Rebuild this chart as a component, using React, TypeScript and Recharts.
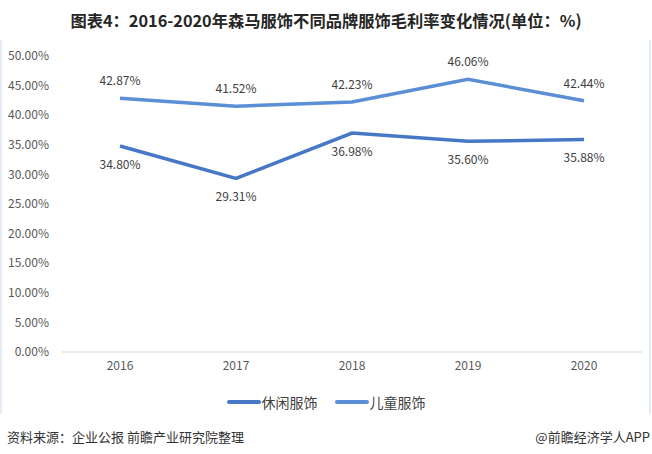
import { LineChart, Line, XAxis, YAxis, LabelList } from 'recharts';

const years = ['2016', '2017', '2018', '2019', '2020'];
const casualWear = [34.8, 29.31, 36.98, 35.6, 35.88];
const kidsWear = [42.87, 41.52, 42.23, 46.06, 42.44];
const yTicks = [0, 5, 10, 15, 20, 25, 30, 35, 40, 45, 50];

const seriesNames = ['休闲服饰', '儿童服饰'];
const seriesColors = ['#4678c6', '#5a8fd6'];

const chartData = years.map((year, i) => ({
  year,
  casual: casualWear[i],
  kids: kidsWear[i],
}));

const font = '"Noto Sans CJK SC", "Noto Sans", sans-serif';

const pct = (v: any) => `${Number(v).toFixed(2)}%`;

const App = () => {
  return (
    <div style={{ position: 'absolute', left: 0, top: 0, width: 652, height: 454, background: '#fff', fontFamily: font }}>
      <div style={{ position: 'absolute', top: 8, left: 0, width: 652, textAlign: 'center', fontSize: 16.3, fontWeight: 'bold', color: '#262626' }}>
        图表4：2016-2020年森马服饰不同品牌服饰毛利率变化情况(单位：%)
      </div>
      <div style={{ position: 'absolute', left: 0, top: 40, width: 2, height: 374, background: '#e6ecf5' }} />
      <div style={{ position: 'absolute', left: 649, top: 40, width: 2, height: 374, background: '#e6ecf5' }} />

      <div style={{ position: 'absolute', left: 0, top: 0 }}>
        <LineChart width={652} height={454} data={chartData} margin={{ top: 56, right: 10, bottom: 72, left: 0 }}>
          <XAxis
            dataKey="year"
            height={30}
            padding={{ left: 58, right: 58 }}
            axisLine={{ stroke: '#d9d9d9' }}
            tickLine={false}
            tickSize={0}
            tickMargin={9}
            tick={{ fontSize: 12, fill: '#595959', fontFamily: font }}
          />
          <YAxis
            width={62}
            domain={[0, 50]}
            ticks={yTicks}
            interval={0}
            axisLine={false}
            tickLine={false}
            tickSize={0}
            tickMargin={13}
            tickFormatter={pct}
            tick={{ fontSize: 12, fill: '#595959', fontFamily: font }}
          />
          <Line
            type="linear"
            dataKey="casual"
            name={seriesNames[0]}
            stroke={seriesColors[0]}
            strokeWidth={3.5}
            dot={false}
            isAnimationActive={false}
          >
            <LabelList dataKey="casual" position="bottom" offset={14} formatter={pct} style={{ fontSize: 12, fill: '#404040', fontFamily: font }} />
          </Line>
          <Line
            type="linear"
            dataKey="kids"
            name={seriesNames[1]}
            stroke={seriesColors[1]}
            strokeWidth={3.5}
            dot={false}
            isAnimationActive={false}
          >
            <LabelList dataKey="kids" position="top" offset={13} formatter={pct} style={{ fontSize: 12, fill: '#404040', fontFamily: font }} />
          </Line>
        </LineChart>
      </div>

      {/* legend */}
      <div style={{ position: 'absolute', left: 0, top: 392, width: 652, display: 'flex', justifyContent: 'center', gap: 17, fontSize: 14, color: '#404040' }}>
        {seriesNames.map((name, i) => (
          <div key={name} style={{ display: 'flex', alignItems: 'center' }}>
            <span style={{ display: 'inline-block', width: 34, height: 4, borderRadius: 2, background: seriesColors[i], marginRight: 1 }} />
            <span>{name}</span>
          </div>
        ))}
      </div>

      <div style={{ position: 'absolute', left: 7, top: 427, fontSize: 13, color: '#333' }}>
        资料来源：企业公报 前瞻产业研究院整理
      </div>
      <div style={{ position: 'absolute', right: 2, top: 427, fontSize: 13, color: '#333' }}>
        @前瞻经济学人APP
      </div>
    </div>
  );
};

export default App;
